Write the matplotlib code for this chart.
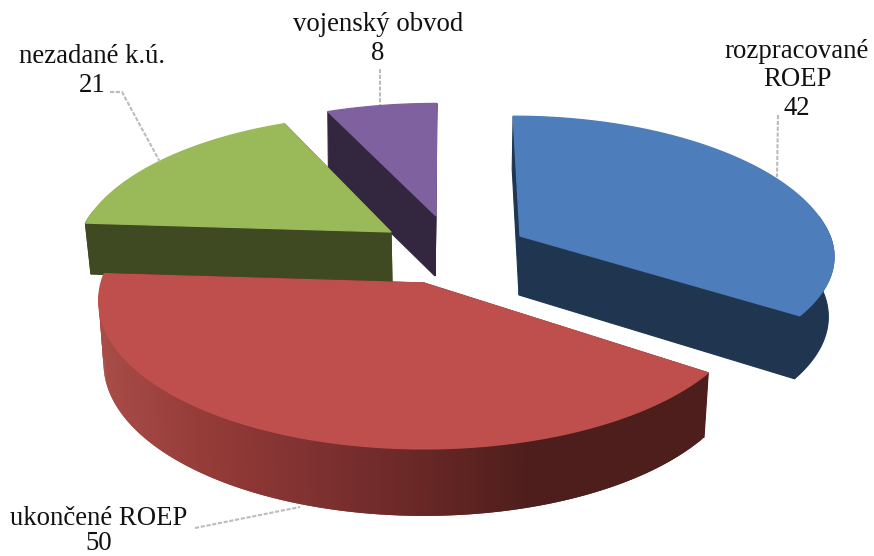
import numpy as np
import matplotlib
matplotlib.use("Agg")
import matplotlib.pyplot as plt
from matplotlib.patches import Polygon

# ---- data ----
categories = ["rozpracované\nROEP", "ukončené ROEP", "nezadané k.ú.", "vojenský obvod"]
values = [42, 50, 21, 8]

top_colors = ["#4d7dba", "#be4f4c", "#9ab958", "#8061a0"]
wall_colors = ["#1f3550", "#4e1e1c", "#3f4a22", "#33273f"]

# projected geometry of each exploded slice (pixels)
geometry = [
    dict(apex=(520, 236), base=(519, 295), a=310, b=126.5, b2=139, p=.16, shear=-8, cx=.985, cy=1.05),
    dict(apex=(424, 283), base=(424, 345), a=323, b=146, b2=146, p=.12, shear=0, cx=.985, cy=1.03),
    dict(apex=(391, 232), base=(392, 283), a=310, b=139, b2=139, p=.19, shear=0, cx=.985, cy=1.0),
    dict(apex=(436, 216), base=(435, 276), a=317, b=134, b2=134, p=.19, shear=1, cx=.985, cy=1.0),
]

label_pos = [(797, 80), (99, 531), (92, 71), (378, 39)]
label_spacing = [1.2, 1.05, 1.2, 1.2]
leaders = [
    [(778, 115), (777, 177)],
    [(195, 528), (300, 507)],
    [(110, 92), (122, 92), (160, 162)],
    [(380, 69), (380, 105)],
]

# gradient stops on the front wall of the big slice
grad_x = [100, 200, 300, 440, 530, 720]
grad_c = [(168, 76, 72), (150, 60, 56), (130, 50, 50), (100, 38, 36), (78, 30, 28), (78, 30, 28)]


def rim(g, th):
    X, Y = np.sin(th), np.cos(th)
    d = 1 + g["p"] * Y
    b = np.where(Y > 0, g["b2"], g["b"])
    dx = (g["a"] * X + g["shear"] * np.maximum(Y, 0)) / d
    dy = -b * Y / d
    top = np.c_[g["apex"][0] + dx, g["apex"][1] + dy]
    bot = np.c_[g["base"][0] + g["cx"] * dx, g["base"][1] + g["cy"] * dy]
    return top, bot


fig = plt.figure(figsize=(8.74, 5.56), dpi=100, facecolor="white")
ax = fig.add_axes([0, 0, 1, 1])
ax.set_xlim(0, 874)
ax.set_ylim(556, 0)
ax.axis("off")

total = sum(values)
edges = np.r_[0, np.cumsum(values)] / total * 2 * np.pi

# paint from back to front: purple, green, blue, red
for i in [3, 2, 0, 1]:
    g = geometry[i]
    th = np.linspace(edges[i], edges[i + 1], 180)
    top, bot = rim(g, th)
    wall = wall_colors[i]
    front = np.cos(th) < 0.15
    # outer wall, only the part that faces the viewer
    if i == 1:
        for k in range(len(th) - 1):
            e = min(k + 3, len(th))
            xm = (top[k, 0] + top[k + 1, 0]) / 2
            col = [np.interp(xm, grad_x, [c[j] for c in grad_c]) / 255 for j in range(3)]
            ax.add_patch(Polygon(np.vstack([top[k:e], bot[k:e][::-1]]), closed=True,
                                 fc=col, ec="none", zorder=1))
    elif front.any():
        ax.add_patch(Polygon(np.vstack([top[front], bot[front][::-1]]), closed=True,
                             fc=wall, ec=wall, lw=.8, zorder=1))
    # radial walls
    for k in (0, -1):
        ax.add_patch(Polygon([g["apex"], top[k], bot[k], g["base"]], closed=True,
                             fc=wall, ec=wall, lw=.8, zorder=1))
    ax.add_patch(Polygon(np.vstack([[g["apex"]], top]), closed=True,
                         fc=top_colors[i], ec=top_colors[i], lw=.9, zorder=1))

for seg in leaders:
    xs, ys = zip(*seg)
    ax.plot(xs, ys, color="#bcbcbc", lw=1.5, ls=(0, (2.0, .8)), zorder=2)

for name, v, (x, y), sp in zip(categories, values, label_pos, label_spacing):
    ax.text(x, y, f"{name}\n{v}", ha="center", va="center", family="Liberation Serif",
            fontsize=19.3, color="#111111", linespacing=sp, zorder=3)

fig.savefig("out.png", dpi=100, facecolor="white")
